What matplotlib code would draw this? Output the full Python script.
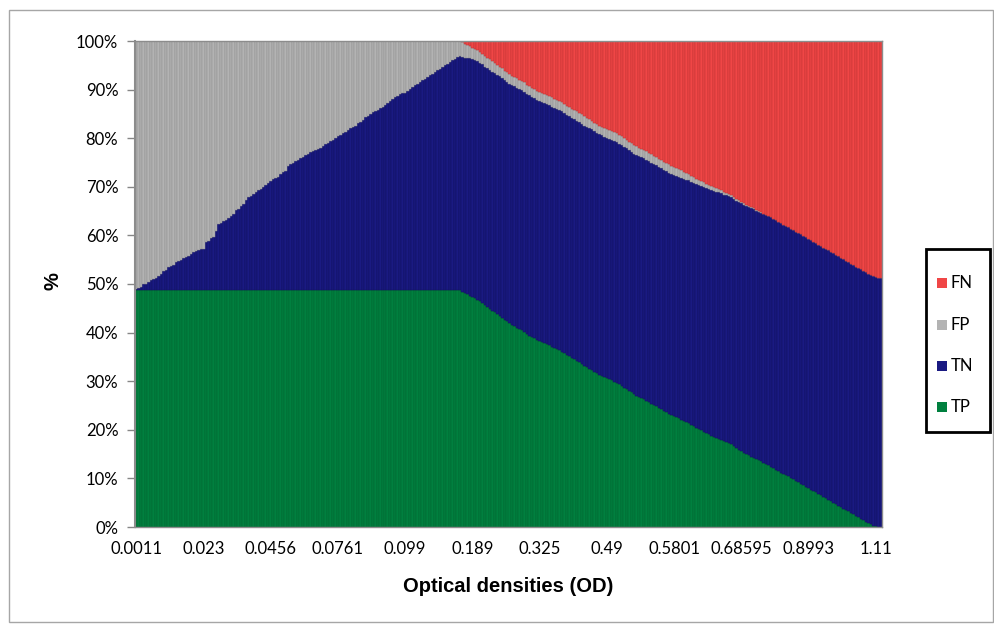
import matplotlib
matplotlib.use("Agg")
import matplotlib.pyplot as plt
from matplotlib.patches import Rectangle
import numpy as np

# ---------------- data (percent of samples per OD threshold) ----------------
tick_labels = ["0.0011", "0.023", "0.0456", "0.0761", "0.099", "0.189",
               "0.325", "0.49", "0.5801", "0.68595", "0.8993", "1.11"]
label_step = 27

tp = [
    48.7, 48.7, 48.7, 48.7, 48.7, 48.7, 48.7, 48.7, 48.7, 48.7,
    48.7, 48.7, 48.7, 48.7, 48.7, 48.7, 48.7, 48.7, 48.7, 48.7,
    48.7, 48.7, 48.7, 48.7, 48.7, 48.7, 48.7, 48.7, 48.7, 48.7,
    48.7, 48.7, 48.7, 48.7, 48.7, 48.7, 48.7, 48.7, 48.7, 48.7,
    48.7, 48.7, 48.7, 48.7, 48.7, 48.7, 48.7, 48.7, 48.7, 48.7,
    48.7, 48.7, 48.7, 48.7, 48.7, 48.7, 48.7, 48.7, 48.7, 48.7,
    48.7, 48.7, 48.7, 48.7, 48.7, 48.7, 48.7, 48.7, 48.7, 48.7,
    48.7, 48.7, 48.7, 48.7, 48.7, 48.7, 48.7, 48.7, 48.7, 48.7,
    48.7, 48.7, 48.7, 48.7, 48.7, 48.7, 48.7, 48.7, 48.7, 48.7,
    48.7, 48.7, 48.7, 48.7, 48.7, 48.7, 48.7, 48.7, 48.7, 48.7,
    48.7, 48.7, 48.7, 48.7, 48.7, 48.7, 48.7, 48.7, 48.7, 48.7,
    48.7, 48.7, 48.7, 48.7, 48.7, 48.7, 48.7, 48.7, 48.7, 48.7,
    48.7, 48.7, 48.7, 48.7, 48.7, 48.7, 48.7, 48.7, 48.7, 48.7,
    48.7, 48.4, 48.1, 47.9, 47.6, 47.3, 47.1, 46.8, 46.4, 46.1,
    45.6, 45.3, 44.9, 44.5, 44.2, 43.8, 43.4, 43.1, 42.6, 42.3,
    41.9, 41.6, 41.3, 41.0, 40.7, 40.5, 40.2, 39.7, 39.4, 39.1,
    38.8, 38.5, 38.3, 38.0, 37.8, 37.6, 37.4, 37.1, 36.8, 36.6,
    36.4, 36.1, 35.7, 35.4, 35.1, 34.8, 34.5, 34.2, 33.9, 33.6,
    33.2, 32.9, 32.6, 32.3, 31.9, 31.6, 31.3, 31.1, 30.8, 30.6,
    30.4, 30.2, 29.9, 29.7, 29.4, 29.1, 28.7, 28.4, 28.0, 27.7,
    27.3, 27.0, 26.7, 26.5, 26.3, 26.0, 25.7, 25.4, 25.1, 24.8,
    24.5, 24.2, 23.9, 23.6, 23.3, 23.0, 22.8, 22.6, 22.4, 22.1,
    21.8, 21.6, 21.4, 21.0, 20.7, 20.4, 20.2, 19.9, 19.6, 19.3,
    19.1, 18.8, 18.6, 18.4, 18.2, 18.0, 17.7, 17.5, 17.3, 17.0,
    16.6, 16.2, 15.9, 15.6, 15.3, 15.0, 14.8, 14.5, 14.3, 14.0,
    13.8, 13.5, 13.2, 12.9, 12.7, 12.4, 12.1, 11.8, 11.5, 11.2,
    10.9, 10.6, 10.4, 10.1, 9.8, 9.5, 9.2, 8.9, 8.6, 8.3,
    8.0, 7.7, 7.4, 7.1, 6.8, 6.5, 6.2, 5.9, 5.6, 5.3,
    5.0, 4.7, 4.4, 4.1, 3.8, 3.5, 3.2, 2.9, 2.6, 2.3,
    2.0, 1.7, 1.4, 1.1, 0.8, 0.6, 0.3, 0.2, 0.0, 0.0,
]

tn = [
    0.2, 0.5, 0.7, 1.2, 1.4, 1.7, 2.1, 2.3, 2.5, 2.9,
    3.3, 3.9, 4.2, 4.7, 5.0, 5.3, 5.8, 6.0, 6.3, 6.6,
    6.9, 7.1, 7.5, 7.8, 8.0, 8.3, 8.4, 8.6, 9.9, 10.2,
    10.7, 10.9, 12.3, 13.6, 13.9, 14.2, 14.4, 14.9, 15.2, 15.7,
    16.5, 16.8, 17.4, 17.7, 18.6, 19.1, 19.4, 19.9, 20.2, 20.6,
    20.9, 21.3, 21.6, 22.1, 22.5, 22.9, 23.2, 23.4, 23.9, 24.3,
    24.6, 25.6, 25.9, 26.3, 26.6, 26.9, 27.2, 27.5, 27.8, 28.1,
    28.4, 28.6, 28.8, 29.1, 29.3, 29.7, 30.1, 30.4, 30.7, 31.0,
    31.3, 31.7, 32.0, 32.3, 32.6, 32.9, 33.3, 33.6, 33.9, 34.4,
    34.7, 35.1, 35.6, 35.9, 36.3, 36.6, 36.9, 37.2, 37.5, 37.8,
    38.1, 38.6, 39.0, 39.3, 39.7, 40.0, 40.3, 40.5, 40.7, 41.0,
    41.5, 41.8, 42.2, 42.5, 42.8, 43.2, 43.5, 43.9, 44.3, 44.6,
    45.0, 45.3, 45.6, 46.0, 46.3, 46.6, 47.0, 47.3, 47.6, 48.0,
    48.2, 48.4, 48.5, 48.7, 48.8, 48.9, 48.9, 49.0, 49.0, 49.1,
    49.1, 49.2, 49.2, 49.2, 49.3, 49.3, 49.3, 49.3, 49.3, 49.3,
    49.3, 49.4, 49.4, 49.4, 49.4, 49.4, 49.4, 49.4, 49.4, 49.4,
    49.4, 49.4, 49.4, 49.4, 49.4, 49.4, 49.4, 49.4, 49.4, 49.4,
    49.4, 49.4, 49.4, 49.4, 49.4, 49.4, 49.4, 49.4, 49.4, 49.4,
    49.4, 49.4, 49.4, 49.5, 49.5, 49.5, 49.5, 49.5, 49.5, 49.5,
    49.5, 49.5, 49.5, 49.5, 49.5, 49.5, 49.5, 49.5, 49.5, 49.5,
    49.5, 49.6, 49.6, 49.6, 49.6, 49.6, 49.6, 49.6, 49.6, 49.6,
    49.6, 49.6, 49.6, 49.6, 49.6, 49.6, 49.6, 49.6, 49.7, 49.7,
    49.8, 49.9, 50.0, 50.0, 50.1, 50.2, 50.2, 50.3, 50.4, 50.4,
    50.5, 50.5, 50.6, 50.6, 50.7, 50.7, 50.7, 50.8, 50.8, 50.8,
    50.9, 50.9, 50.9, 51.0, 51.0, 51.0, 51.0, 51.1, 51.1, 51.1,
    51.1, 51.2, 51.2, 51.3, 51.3, 51.3, 51.3, 51.3, 51.3, 51.3,
    51.3, 51.3, 51.3, 51.3, 51.3, 51.3, 51.3, 51.3, 51.3, 51.3,
    51.3, 51.3, 51.3, 51.3, 51.3, 51.3, 51.3, 51.3, 51.3, 51.3,
    51.3, 51.3, 51.3, 51.3, 51.3, 51.3, 51.3, 51.3, 51.3, 51.3,
    51.3, 51.3, 51.3, 51.3, 51.3, 51.3, 51.3, 51.3, 51.3, 51.3,
]

fp = [
    51.1, 50.8, 50.6, 50.1, 49.9, 49.6, 49.2, 49.0, 48.8, 48.4,
    48.0, 47.4, 47.1, 46.6, 46.3, 46.0, 45.5, 45.3, 45.0, 44.7,
    44.4, 44.2, 43.8, 43.5, 43.3, 43.0, 42.9, 42.7, 41.4, 41.1,
    40.6, 40.4, 39.0, 37.7, 37.4, 37.1, 36.9, 36.4, 36.1, 35.6,
    34.8, 34.5, 33.9, 33.6, 32.7, 32.2, 31.9, 31.4, 31.1, 30.7,
    30.4, 30.0, 29.7, 29.2, 28.8, 28.4, 28.1, 27.9, 27.4, 27.0,
    26.7, 25.7, 25.4, 25.0, 24.7, 24.4, 24.1, 23.8, 23.5, 23.2,
    22.9, 22.7, 22.5, 22.2, 22.0, 21.6, 21.2, 20.9, 20.6, 20.3,
    20.0, 19.6, 19.3, 19.0, 18.7, 18.4, 18.0, 17.7, 17.4, 16.9,
    16.6, 16.2, 15.7, 15.4, 15.0, 14.7, 14.4, 14.1, 13.8, 13.5,
    13.2, 12.7, 12.3, 12.0, 11.6, 11.3, 11.0, 10.8, 10.6, 10.3,
    9.8, 9.5, 9.1, 8.8, 8.5, 8.1, 7.8, 7.4, 7.0, 6.7,
    6.3, 6.0, 5.7, 5.3, 5.0, 4.7, 4.3, 4.0, 3.7, 3.3,
    3.1, 2.9, 2.8, 2.6, 2.5, 2.4, 2.4, 2.3, 2.3, 2.2,
    2.2, 2.1, 2.1, 2.1, 2.0, 2.0, 2.0, 2.0, 2.0, 2.0,
    2.0, 1.9, 1.9, 1.9, 1.9, 1.9, 1.9, 1.9, 1.9, 1.9,
    1.9, 1.9, 1.9, 1.9, 1.9, 1.9, 1.9, 1.9, 1.9, 1.9,
    1.9, 1.9, 1.9, 1.9, 1.9, 1.9, 1.9, 1.9, 1.9, 1.9,
    1.9, 1.9, 1.9, 1.8, 1.8, 1.8, 1.8, 1.8, 1.8, 1.8,
    1.8, 1.8, 1.8, 1.8, 1.8, 1.8, 1.8, 1.8, 1.8, 1.8,
    1.8, 1.7, 1.7, 1.7, 1.7, 1.7, 1.7, 1.7, 1.7, 1.7,
    1.7, 1.7, 1.7, 1.7, 1.7, 1.7, 1.7, 1.7, 1.6, 1.6,
    1.5, 1.4, 1.3, 1.3, 1.2, 1.1, 1.1, 1.0, 0.9, 0.9,
    0.8, 0.8, 0.7, 0.7, 0.6, 0.6, 0.6, 0.5, 0.5, 0.5,
    0.4, 0.4, 0.4, 0.3, 0.3, 0.3, 0.3, 0.2, 0.2, 0.2,
    0.2, 0.1, 0.1, 0.0, 0.0, 0.0, 0.0, 0.0, 0.0, 0.0,
    0.0, 0.0, 0.0, 0.0, 0.0, 0.0, 0.0, 0.0, 0.0, 0.0,
    0.0, 0.0, 0.0, 0.0, 0.0, 0.0, 0.0, 0.0, 0.0, 0.0,
    0.0, 0.0, 0.0, 0.0, 0.0, 0.0, 0.0, 0.0, 0.0, 0.0,
    0.0, 0.0, 0.0, 0.0, 0.0, 0.0, 0.0, 0.0, 0.0, 0.0,
]

fn = [
    0.0, 0.0, 0.0, 0.0, 0.0, 0.0, 0.0, 0.0, 0.0, 0.0,
    0.0, 0.0, 0.0, 0.0, 0.0, 0.0, 0.0, 0.0, 0.0, 0.0,
    0.0, 0.0, 0.0, 0.0, 0.0, 0.0, 0.0, 0.0, 0.0, 0.0,
    0.0, 0.0, 0.0, 0.0, 0.0, 0.0, 0.0, 0.0, 0.0, 0.0,
    0.0, 0.0, 0.0, 0.0, 0.0, 0.0, 0.0, 0.0, 0.0, 0.0,
    0.0, 0.0, 0.0, 0.0, 0.0, 0.0, 0.0, 0.0, 0.0, 0.0,
    0.0, 0.0, 0.0, 0.0, 0.0, 0.0, 0.0, 0.0, 0.0, 0.0,
    0.0, 0.0, 0.0, 0.0, 0.0, 0.0, 0.0, 0.0, 0.0, 0.0,
    0.0, 0.0, 0.0, 0.0, 0.0, 0.0, 0.0, 0.0, 0.0, 0.0,
    0.0, 0.0, 0.0, 0.0, 0.0, 0.0, 0.0, 0.0, 0.0, 0.0,
    0.0, 0.0, 0.0, 0.0, 0.0, 0.0, 0.0, 0.0, 0.0, 0.0,
    0.0, 0.0, 0.0, 0.0, 0.0, 0.0, 0.0, 0.0, 0.0, 0.0,
    0.0, 0.0, 0.0, 0.0, 0.0, 0.0, 0.0, 0.0, 0.0, 0.0,
    0.0, 0.3, 0.6, 0.8, 1.1, 1.4, 1.6, 1.9, 2.3, 2.6,
    3.1, 3.4, 3.8, 4.2, 4.5, 4.9, 5.3, 5.6, 6.1, 6.4,
    6.8, 7.1, 7.4, 7.7, 8.0, 8.2, 8.5, 9.0, 9.3, 9.6,
    9.9, 10.2, 10.4, 10.7, 10.9, 11.1, 11.3, 11.6, 11.9, 12.1,
    12.3, 12.6, 13.0, 13.3, 13.6, 13.9, 14.2, 14.5, 14.8, 15.1,
    15.5, 15.8, 16.1, 16.4, 16.8, 17.1, 17.4, 17.6, 17.9, 18.1,
    18.3, 18.5, 18.8, 19.0, 19.3, 19.6, 20.0, 20.3, 20.7, 21.0,
    21.4, 21.7, 22.0, 22.2, 22.4, 22.7, 23.0, 23.3, 23.6, 23.9,
    24.2, 24.5, 24.8, 25.1, 25.4, 25.7, 25.9, 26.1, 26.3, 26.6,
    26.9, 27.1, 27.3, 27.7, 28.0, 28.3, 28.5, 28.8, 29.1, 29.4,
    29.6, 29.9, 30.1, 30.3, 30.5, 30.7, 31.0, 31.2, 31.4, 31.7,
    32.1, 32.5, 32.8, 33.1, 33.4, 33.7, 33.9, 34.2, 34.4, 34.7,
    34.9, 35.2, 35.5, 35.8, 36.0, 36.3, 36.6, 36.9, 37.2, 37.5,
    37.8, 38.1, 38.3, 38.6, 38.9, 39.2, 39.5, 39.8, 40.1, 40.4,
    40.7, 41.0, 41.3, 41.6, 41.9, 42.2, 42.5, 42.8, 43.1, 43.4,
    43.7, 44.0, 44.3, 44.6, 44.9, 45.2, 45.5, 45.8, 46.1, 46.4,
    46.7, 47.0, 47.3, 47.6, 47.9, 48.1, 48.4, 48.5, 48.7, 48.7,
]

series = [("TP", tp, "#00803F", "#00662F"),
          ("TN", tn, "#1A1A82", "#111160"),
          ("FP", fp, "#B3B3B3", "#8E8E8E"),
          ("FN", fn, "#F04646", "#BE3434")]

# ---------------- figure ----------------
W, H = 994, 624
fig = plt.figure(figsize=(W / 100, H / 100), dpi=100)
fig.patch.set_facecolor("white")

def fx(px):
    return px / W

def fy(py):
    return 1 - py / H

# chart-area border
fig.add_artist(Rectangle((fx(9), fy(622)), fx(984), 612 / H,
                         transform=fig.transFigure, fill=False,
                         edgecolor="#A6A6A6", linewidth=1.0))

L, R, T, B = 135, 882, 41, 527
ax = fig.add_axes([fx(L), fy(B), (R - L) / W, (B - T) / H])

n = len(tp)
x = np.arange(n)
totals = np.array(tp) + np.array(tn) + np.array(fp) + np.array(fn)
bottom = np.zeros(n)
for name, vals, col, edge in series:
    pct = np.array(vals) / totals * 100.0
    ax.bar(x, pct, bottom=bottom, width=1.0, color=col, edgecolor=edge,
           linewidth=0.35, label=name)
    bottom += pct

ax.set_xlim(-0.5, n - 0.5)
ax.set_ylim(0, 100)
ax.set_yticks(np.arange(0, 101, 10))
ax.set_yticklabels([f"{v}%" for v in range(0, 101, 10)],
                   fontfamily="Lato", fontsize=12)
tick_pos = np.arange(len(tick_labels)) * label_step
ax.set_xticks(tick_pos)
ax.set_xticklabels(tick_labels, fontfamily="Lato", fontsize=12)
ax.tick_params(axis="x", length=0, pad=10)
ax.tick_params(axis="y", length=6, width=1, color="#868686", pad=6,
               direction="out")
for side in ["left", "right", "top", "bottom"]:
    ax.spines[side].set_color("#8C8C8C")
    ax.spines[side].set_linewidth(1.0)
ax.spines["left"].set_linewidth(1.5)

fig.text(fx(508), fy(586), "Optical densities (OD)", ha="center", va="center",
         fontfamily="Liberation Sans", fontweight="bold", fontsize=14.5)
fig.text(fx(53), fy(281), "%", ha="center", va="center", rotation=90,
         fontfamily="Liberation Sans", fontweight="bold", fontsize=14.5)

# legend (Excel style, right of plot)
lx0, ly0, lx1, ly1 = 926, 249, 990, 432
fig.add_artist(Rectangle((fx(lx0), fy(ly1)), (lx1 - lx0) / W, (ly1 - ly0) / H,
                         transform=fig.transFigure, fill=True,
                         facecolor="white", edgecolor="black", linewidth=2.0))
ys = [283, 325, 366, 407]
for (name, vals, col, edge), yy in zip(series[::-1], ys):
    fig.add_artist(Rectangle((fx(937), fy(yy + 5)), 10 / W, 10 / H,
                             transform=fig.transFigure, facecolor=col,
                             edgecolor="none"))
    fig.text(fx(951), fy(yy), name, ha="left", va="center",
             fontfamily="Lato", fontsize=12)

fig.savefig("out.png", dpi=100)
